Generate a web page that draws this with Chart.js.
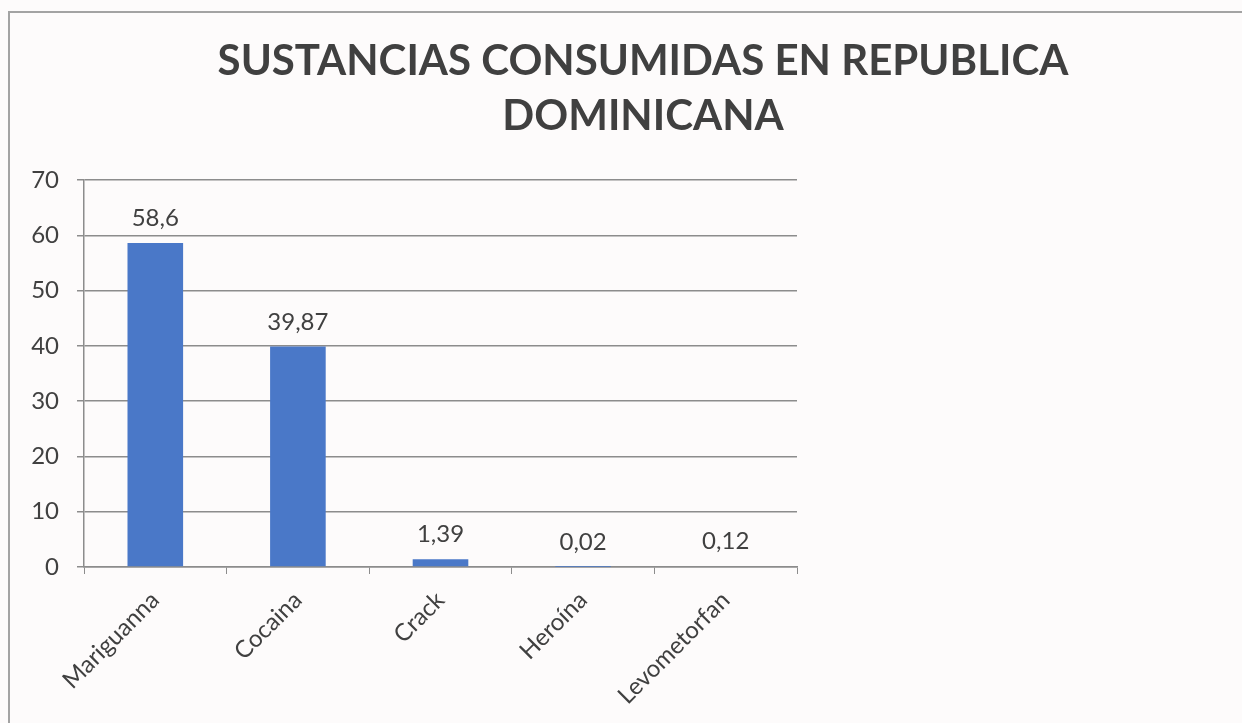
<!DOCTYPE html>
<html>
<head>
<meta charset="utf-8">
<script src="https://cdn.jsdelivr.net/npm/chart.js@4"></script>
<style>
  html,body{margin:0;padding:0;background:#fdfbfb;overflow:hidden;width:1242px;height:723px}
  .frame{position:absolute;left:8px;top:11px;width:1300px;height:800px;border:2px solid #a3a3a3}
  .wrap{position:absolute;left:0;top:0;width:1286px;height:723px}
</style>
</head>
<body>
<div class="frame"></div>
<div class="wrap"><canvas id="c"></canvas></div>
<script>
const CATEGORIES = ['Mariguanna','Cocaina','Crack','Heroína','Levometorfan']
const VALUES = [58.6, 39.87, 1.39, 0.02, 0.12]
const VALUE_LABELS = ['58,6','39,87','1,39','0,02','0,12']
const TITLE = ['SUSTANCIAS CONSUMIDAS EN REPUBLICA','DOMINICANA']

const txt='#404040', gc='#8c8c8c', font='Lato'

// titulo centrado sobre todo el grafico (no solo el area de datos)
const titleLines = {
  id:'titleLines',
  afterDraw(chart){
    const ctx=chart.ctx
    ctx.save()
    ctx.font=`bold 42px ${font}`
    ctx.fillStyle=txt
    ctx.textAlign='center'
    ctx.textBaseline='alphabetic'
    TITLE.forEach((t,i)=>ctx.fillText(t, chart.width/2, 75+i*55))
    ctx.restore()
  }
}

// etiquetas de valor encima de cada barra
const valueLabels = {
  id:'valueLabels',
  afterDatasetsDraw(chart){
    const ctx=chart.ctx
    const meta=chart.getDatasetMeta(0)
    ctx.save()
    ctx.font=`24px ${font}`
    ctx.fillStyle=txt
    ctx.textAlign='center'
    ctx.textBaseline='alphabetic'
    meta.data.forEach((bar,i)=>{
      ctx.fillText(VALUE_LABELS[i], bar.x, bar.y-17)
    })
    ctx.restore()
  }
}

new Chart(document.getElementById('c'),{
  type:'bar',
  data:{labels:CATEGORIES,datasets:[{
    data:VALUES,
    backgroundColor:'#4a78c8',
    categoryPercentage:1,
    barPercentage:0.39
  }]},
  options:{
    responsive:true, maintainAspectRatio:false, animation:false,
    layout:{padding:{left:0,right:489,top:180,bottom:0}},
    plugins:{legend:{display:false},tooltip:{enabled:false},title:{display:false}},
    scales:{
      x:{
        grid:{drawOnChartArea:false,tickColor:gc,tickLength:7,offset:true},
        border:{color:gc,width:1.5},
        ticks:{color:txt,font:{family:font,size:24},minRotation:45,maxRotation:45,padding:12},
        afterFit(s){ s.height=156; s.paddingLeft=0; s.paddingRight=0 }
      },
      y:{
        min:0,max:70,
        grid:{color:gc,lineWidth:1.5,tickColor:gc,tickLength:7},
        border:{color:gc,width:1.5},
        ticks:{stepSize:10,color:txt,font:{family:font,size:24},padding:18},
        afterFit(s){ s.width=84; s.paddingTop=0; s.paddingBottom=0 }
      }
    }
  },
  plugins:[valueLabels,titleLines]
})
</script>
</body>
</html>
